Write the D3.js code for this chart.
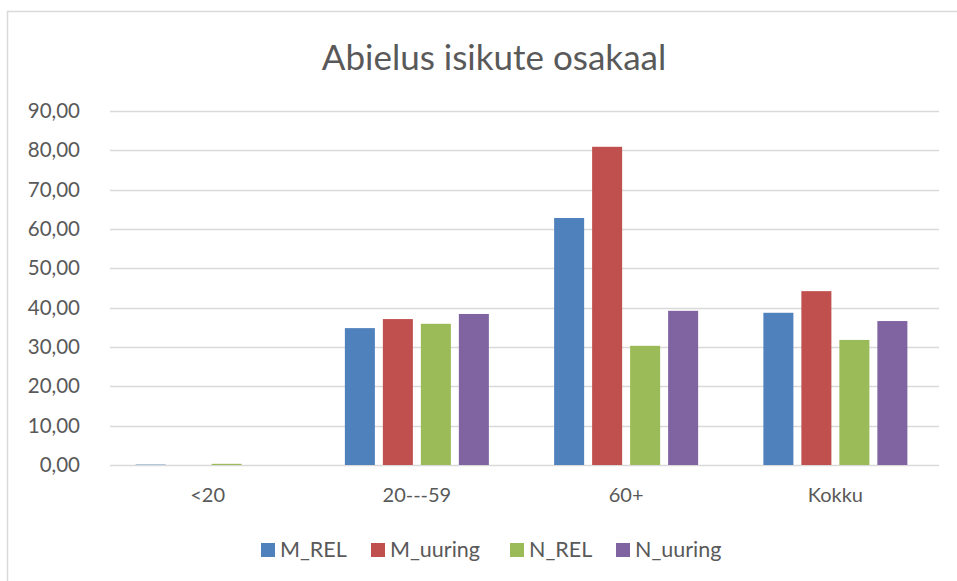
<!DOCTYPE html>
<html>
<head>
<meta charset="utf-8">
<script src="https://cdn.jsdelivr.net/npm/d3@7"></script>
<style>
  body { margin: 0; background: #fff; }
  text { font-family: Lato, "Open Sans", sans-serif; fill: #595959; }
</style>
</head>
<body>
<div id="chart"></div>
<script>
const categories = ['<20', '20---59', '60+', 'Kokku'];
const seriesNames = ['M_REL', 'M_uuring', 'N_REL', 'N_uuring'];
const seriesColors = ['#4f81bd', '#c0504d', '#9bbb59', '#8064a2'];
const M_REL = [0.1, 34.8, 62.8, 38.7];
const M_uuring = [0, 37.1, 80.9, 44.2];
const N_REL = [0.3, 35.9, 30.3, 31.8];
const N_uuring = [0, 38.4, 39.2, 36.6];
const yTicks = [0, 10, 20, 30, 40, 50, 60, 70, 80, 90];

const series = [M_REL, M_uuring, N_REL, N_uuring];
const width = 957, height = 581;
const margin = { top: 111, right: 17, bottom: 116, left: 103 };

const svg = d3.select('#chart')
  .append('svg')
  .attr('width', width)
  .attr('height', height);

// chart frame
svg.append('rect')
  .attr('x', 7.5).attr('y', 11.5)
  .attr('width', 960).attr('height', 600)
  .attr('fill', 'none')
  .attr('stroke', '#d9d9d9')
  .attr('stroke-width', 1.5);

const x = d3.scaleBand()
  .domain(categories)
  .range([margin.left, width - margin.right]);

const x1 = d3.scaleBand()
  .domain(seriesNames)
  .range([0, 144])
  .paddingInner(0.21);

const y = d3.scaleLinear()
  .domain([0, 90])
  .range([height - margin.bottom, margin.top]);

// gridlines
svg.append('g')
  .selectAll('line')
  .data(yTicks)
  .enter()
  .append('line')
  .attr('x1', margin.left + 7)
  .attr('x2', width - margin.right - 1)
  .attr('y1', d => Math.round(y(d)) + 0.5)
  .attr('y2', d => Math.round(y(d)) + 0.5)
  .attr('stroke', '#d9d9d9')
  .attr('stroke-width', 1.5);

// y labels
const yAxis = d3.axisLeft(y)
  .tickValues(yTicks)
  .tickSize(0)
  .tickPadding(0)
  .tickFormat(d => d3.format('.2f')(d).replace('.', ','));
const ya = svg.append('g')
  .attr('transform', `translate(80,0)`)
  .call(yAxis);
ya.select('.domain').remove();
ya.selectAll('text')
  .attr('font-size', 20.5)
  .attr('font-family', 'Lato, sans-serif')
  .attr('fill', '#595959');

// bars
const groups = svg.append('g')
  .selectAll('g')
  .data(categories)
  .enter()
  .append('g')
  .attr('transform', d => `translate(${x(d) + x.bandwidth() / 2 - 72},0)`);

groups.selectAll('rect')
  .data((c, i) => series.map((s, k) => ({ name: seriesNames[k], value: s[i], color: seriesColors[k] })))
  .enter()
  .append('rect')
  .attr('x', d => x1(d.name))
  .attr('width', x1.bandwidth())
  .attr('y', d => y(d.value))
  .attr('height', d => y(0) - y(d.value))
  .attr('fill', d => d.color);

// x labels
const xAxis = d3.axisBottom(x).tickSize(0).tickPadding(0);
const xa = svg.append('g')
  .attr('transform', `translate(0,${y(0) + 37})`)
  .call(xAxis);
xa.select('.domain').remove();
xa.selectAll('text')
  .attr('font-size', 20)
  .attr('font-family', 'Lato, sans-serif')
  .attr('fill', '#595959')
  .attr('dy', 0);

// title
svg.append('text')
  .attr('x', 494)
  .attr('y', 70)
  .attr('text-anchor', 'middle')
  .attr('font-size', 35)
  .text('Abielus isikute osakaal');

// legend
const legendX = [261, 371, 510, 616];
const legend = svg.append('g')
  .selectAll('g')
  .data(seriesNames)
  .enter()
  .append('g')
  .attr('transform', (d, i) => `translate(${legendX[i]},543)`);
legend.append('rect')
  .attr('width', 14).attr('height', 14)
  .attr('fill', (d, i) => seriesColors[i]);
legend.append('text')
  .attr('x', 19)
  .attr('y', 14)
  .attr('font-size', 21.5)
  .text(d => d);
</script>
</body>
</html>
